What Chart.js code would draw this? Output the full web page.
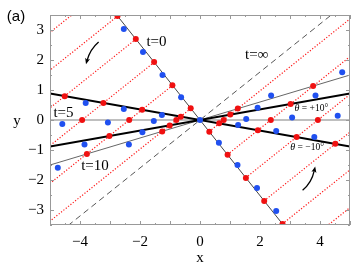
<!DOCTYPE html>
<html>
<head>
<meta charset="utf-8">
<script src="https://cdn.jsdelivr.net/npm/chart.js@4.4.1/dist/chart.umd.min.js"></script>
<style>
  body { margin: 0; background: #fff; }
  canvas { display: block; }
</style>
</head>
<body>
<canvas id="lineChart" width="354" height="270"></canvas>
<script>
const xTicks = [-4, -2, 0, 2, 4];
const yTicks = [-3, -2, -1, 0, 1, 2, 3];

// material lines (two end points each)
const lineT0 = [[-2.8, 3.53], [2.8, -3.53]];
const lineT5 = [[-5, 0], [5, 0]];
const lineT10 = [[-5, -1.5], [5, 1.5]];
const lineTinf = [[-4.4, -3.52], [4.4, 3.52]];
const lineMinus10 = [[-5, 0.88], [5, -0.88]];
const linePlus10 = [[-5, -0.88], [5, 0.88]];

// red dots (theory)
const redT0 = [[-2.75, 3.47], [-2.14, 2.70], [-1.53, 1.93], [-0.92, 1.16], [-0.31, 0.39],
  [0.31, -0.39], [0.92, -1.16], [1.53, -1.93], [2.14, -2.70], [2.75, -3.47]];
const redMinus10 = [[-4.51, 0.79], [-3.22, 0.57], [-1.93, 0.34], [-0.64, 0.11],
  [0.64, -0.11], [1.93, -0.34], [3.22, -0.57], [4.51, -0.79]];
const redT5 = [[-3.93, 0], [-2.36, 0], [-0.79, 0], [0.79, 0], [2.36, 0], [3.93, 0]];
const redPlus10 = [[-3.02, -0.53], [-1.01, -0.18], [1.01, 0.18], [3.02, 0.53]];
const redT10 = [[-3.77, -1.13], [-1.26, -0.38], [1.26, 0.38], [3.77, 1.13]];

// blue dots (simulation)
const blueDots = [[0, 0],
  [-0.63, 0.76], [-1.25, 1.50], [-1.90, 2.27], [-2.54, 3.03],
  [0.63, -0.76], [1.25, -1.50], [1.90, -2.27], [2.54, -3.03],
  [-1.27, 0.17], [-2.54, 0.37], [-3.81, 0.57], [1.27, -0.17], [2.54, -0.37], [3.81, -0.57],
  [-1.54, -0.03], [-3.07, -0.08], [-4.59, -0.13], [1.54, 0.03], [3.07, 0.08], [4.59, 0.14],
  [-1.92, -0.41], [-3.85, -0.82], [1.92, 0.41], [3.85, 0.82],
  [-2.37, -0.82], [-4.74, -1.59], [2.37, 0.82], [4.74, 1.59]];

// red dotted paths: start point on t=0 line, end point at the frame
const pathStarts = [[-0.305, 0.385], [-0.915, 1.155], [-1.525, 1.925], [-2.135, 2.695], [-2.745, 3.465], [-3.355, 4.235],
  [0.305, -0.385], [0.915, -1.155], [1.525, -1.925], [2.135, -2.695], [2.745, -3.465], [3.355, -4.235]];
const pathEnds = [[-5, -3.371], [-5, -2.113], [-5, -0.855], [-5, 0.403], [-5, 1.661], [-5, 2.919],
  [5, 3.371], [5, 2.113], [5, 0.855], [5, -0.403], [5, -1.661], [5, -2.919]];

const labels = [
  { text: 't=0', x: -1.45, y: 2.6 },
  { text: 't=\u221e', x: 1.89, y: 2.17 },
  { text: 't=5', x: -4.55, y: 0.23 },
  { text: 't=10', x: -3.5, y: -1.53 }
];
const thetaLabels = [
  { value: '= +10\u00b0', x: 3.71, y: 0.39 },
  { value: '= \u221210\u00b0', x: 3.57, y: -0.9 }
];
// curved arrows: tail, bend, head (data units)
const arrows = [
  { tail: [-3.38, 2.6], bend: [-3.66, 2.36], head: [-3.8, 1.86] },
  { tail: [3.42, -2.34], bend: [3.72, -2.1], head: [3.84, -1.55] }
];

function pts(arr) {
  return arr.map(p => ({ x: p[0], y: p[1] }));
}

function minusSign(v) {
  return v < 0 ? '\u2212' + Math.abs(v) : String(v);
}

function lineSet(arr, color, width, dash) {
  return {
    data: pts(arr), showLine: true, pointRadius: 0, borderColor: color,
    borderWidth: width, borderDash: dash || [], fill: false
  };
}

const datasets = [];
datasets.push({ data: pts(redT0.concat(redMinus10, redT5, redPlus10, redT10)), pointRadius: 3,
  pointBackgroundColor: '#f01010', pointBorderWidth: 0, showLine: false });
datasets.push({ data: pts(blueDots), pointRadius: 3, pointBackgroundColor: '#2050f0',
  pointBorderWidth: 0, showLine: false });
datasets.push(lineSet(lineMinus10, '#000', 2));
datasets.push(lineSet(linePlus10, '#000', 2));
datasets.push(lineSet(lineT0, '#444', 1));
datasets.push(lineSet(lineT10, '#666', 1));
datasets.push(lineSet(lineT5, '#aaa', 1.6));
datasets.push(lineSet(lineTinf, '#555', 1, [6, 4]));
pathStarts.forEach((p, i) => {
  datasets.push(lineSet([p, pathEnds[i]], '#ff1a1a', 1.2, [1.2, 1.8]));
});

const decorations = {
  id: 'decorations',
  afterDatasetsDraw(chart) {
    const c = chart.ctx;
    const xs = chart.scales.x;
    const ys = chart.scales.y;
    const a = chart.chartArea;
    const px = v => xs.getPixelForValue(v);
    const py = v => ys.getPixelForValue(v);
    c.save();
    // frame and inner ticks
    c.strokeStyle = '#999';
    c.lineWidth = 1;
    c.strokeRect(a.left + 0.5, a.top + 0.5, a.right - a.left - 1, a.bottom - a.top - 1);
    c.beginPath();
    for (let v = -5; v <= 5; v += 0.5) {
      const x = Math.round(px(v)) + 0.5;
      const len = Number.isInteger(v) ? 4 : 2;
      c.moveTo(x, a.bottom); c.lineTo(x, a.bottom - len);
      c.moveTo(x, a.top); c.lineTo(x, a.top + len);
    }
    for (let v = -3.5; v <= 3.5; v += 0.5) {
      const y = Math.round(py(v)) + 0.5;
      const len = Number.isInteger(v) ? 4 : 2;
      c.moveTo(a.left, y); c.lineTo(a.left + len, y);
      c.moveTo(a.right, y); c.lineTo(a.right - len, y);
    }
    c.stroke();

    // text labels
    c.fillStyle = '#000';
    c.textAlign = 'center';
    c.textBaseline = 'middle';
    c.font = '15px "Liberation Serif", serif';
    labels.forEach(l => {
      c.fillText(l.text, px(l.x), py(l.y));
    });
    thetaLabels.forEach(l => {
      c.font = '9.5px "Liberation Serif", serif';
      const w1 = c.measureText(l.value).width;
      c.font = 'italic 10px "Liberation Serif", serif';
      const w0 = c.measureText('\u03b8 ').width;
      const left = px(l.x) - (w0 + w1) / 2;
      c.textAlign = 'left';
      c.fillText('\u03b8', left, py(l.y));
      c.font = '9.5px "Liberation Serif", serif';
      c.fillText(l.value, left + w0, py(l.y));
      c.textAlign = 'center';
    });

    // curved arrows
    c.strokeStyle = '#000';
    c.fillStyle = '#000';
    c.lineWidth = 1.3;
    arrows.forEach(ar => {
      const t = [px(ar.tail[0]), py(ar.tail[1])];
      const b = [px(ar.bend[0]), py(ar.bend[1])];
      const h = [px(ar.head[0]), py(ar.head[1])];
      const dir = Math.atan2(h[1] - b[1], h[0] - b[0]);
      const back = [h[0] - Math.cos(dir) * 4, h[1] - Math.sin(dir) * 4];
      c.beginPath();
      c.moveTo(t[0], t[1]);
      c.quadraticCurveTo(b[0], b[1], back[0], back[1]);
      c.stroke();
      c.beginPath();
      c.moveTo(h[0], h[1]);
      c.lineTo(h[0] - Math.cos(dir - 0.4) * 6.5, h[1] - Math.sin(dir - 0.4) * 6.5);
      c.lineTo(h[0] - Math.cos(dir) * 4.5, h[1] - Math.sin(dir) * 4.5);
      c.lineTo(h[0] - Math.cos(dir + 0.4) * 6.5, h[1] - Math.sin(dir + 0.4) * 6.5);
      c.closePath();
      c.fill();
    });

    // axis titles and panel tag
    c.font = '15px "Liberation Serif", serif';
    c.fillText('x', (a.left + a.right) / 2, 258);
    c.fillText('y', 17, py(0) + 1);
    c.font = '15px "Liberation Sans", sans-serif';
    c.fillText('(a)', 16, 17);
    c.restore();
  }
};

const chart = new Chart(document.getElementById('lineChart'), {
  type: 'scatter',
  data: { datasets: datasets },
  plugins: [decorations],
  options: {
    responsive: false,
    animation: false,
    devicePixelRatio: 1,
    layout: { padding: { top: 15, right: 4, left: 0, bottom: 0 } },
    plugins: { legend: { display: false }, tooltip: { enabled: false } },
    scales: {
      x: {
        type: 'linear', min: -5, max: 5,
        grid: { display: false, drawTicks: false }, border: { display: false },
        afterBuildTicks: s => { s.ticks = xTicks.map(v => ({ value: v })); },
        afterFit: s => { s.height = 45; },
        ticks: { padding: 8, color: '#000', font: { family: '"Liberation Serif", serif', size: 15 },
          callback: v => minusSign(v) }
      },
      y: {
        type: 'linear', min: -3.5, max: 3.5,
        grid: { display: false, drawTicks: false }, border: { display: false },
        afterBuildTicks: s => { s.ticks = yTicks.map(v => ({ value: v })); },
        afterFit: s => { s.width = 50; },
        ticks: { padding: 6, color: '#000', font: { family: '"Liberation Serif", serif', size: 15 },
          callback: v => minusSign(v) }
      }
    }
  }
});
</script>
</body>
</html>
